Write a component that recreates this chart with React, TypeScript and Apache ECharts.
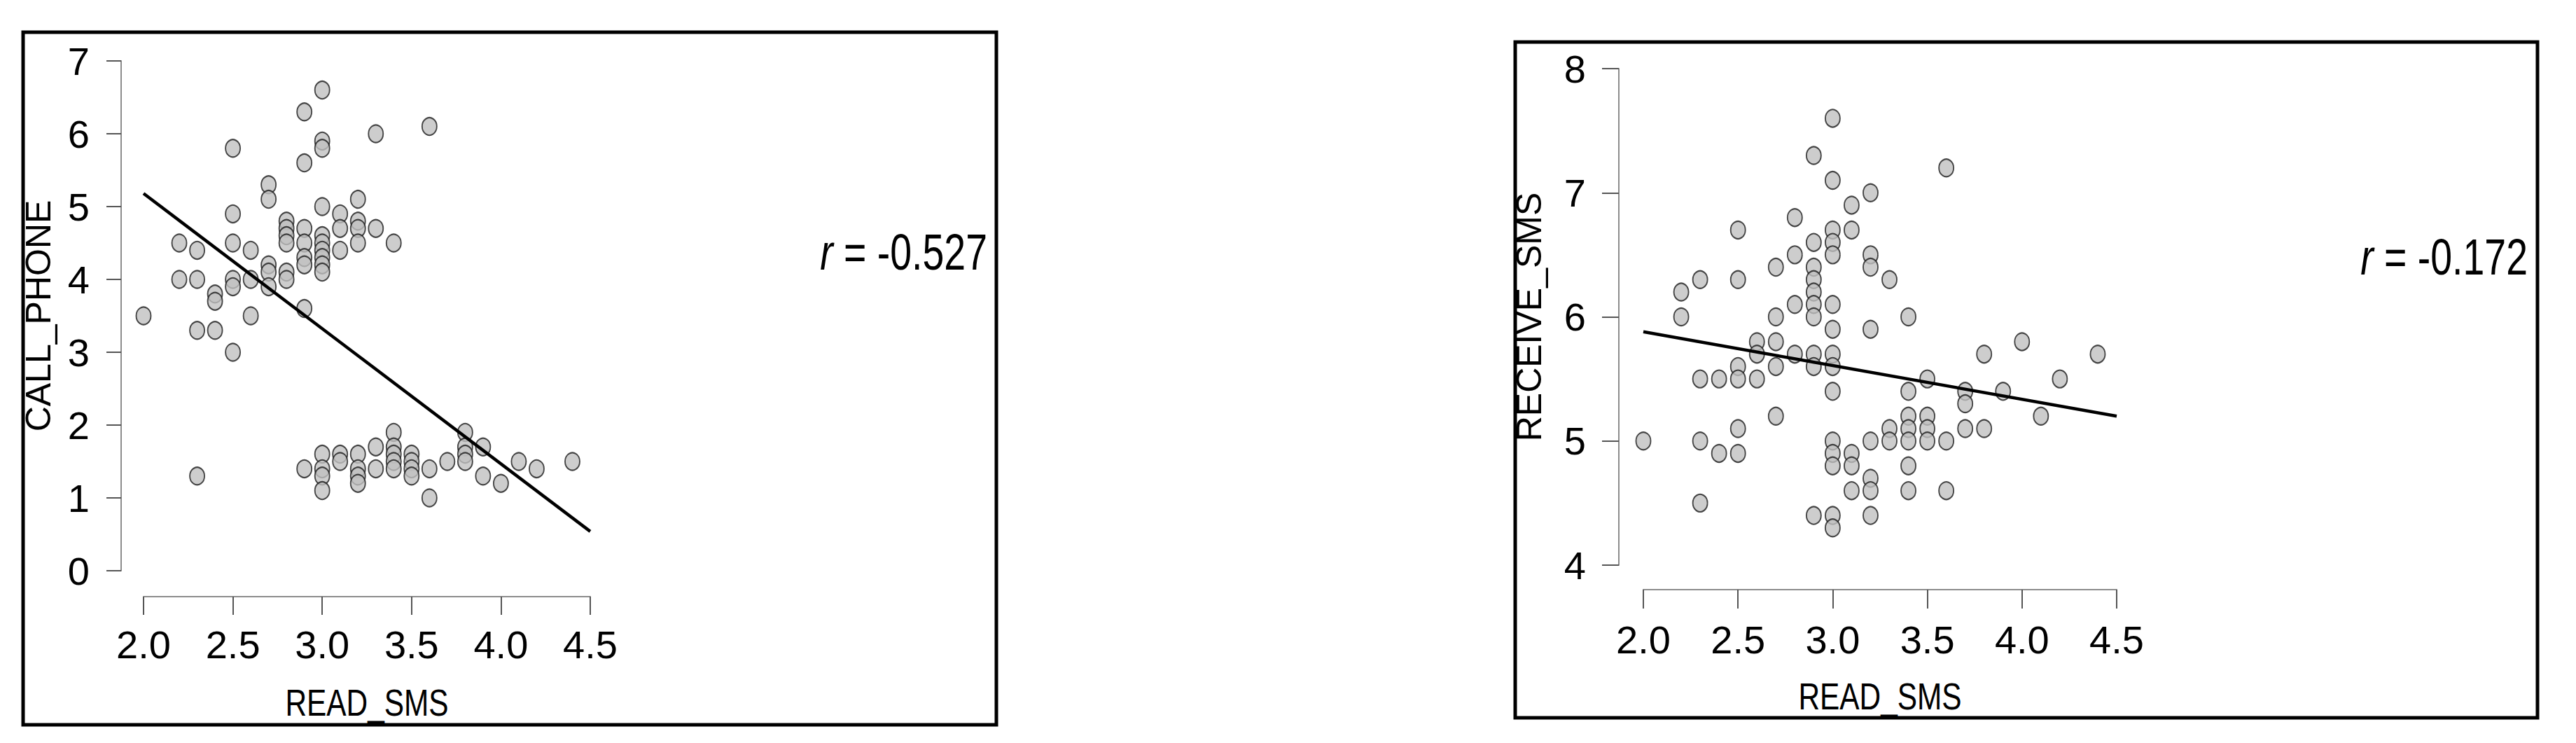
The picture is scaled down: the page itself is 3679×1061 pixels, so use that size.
import React, { useEffect, useRef } from "react";
import * as echarts from "echarts";

const W = 3679;
const H = 1061;

// READ_SMS vs CALL_PHONE
const callPhonePoints: [number, number][] = [
  [2.0, 3.5],
  [2.2, 4.5], [2.2, 4.0],
  [2.3, 4.4], [2.3, 4.0], [2.3, 3.3], [2.3, 1.3],
  [2.4, 3.8], [2.4, 3.7], [2.4, 3.3],
  [2.5, 5.8], [2.5, 4.9], [2.5, 4.5], [2.5, 4.0], [2.5, 3.9], [2.5, 3.0],
  [2.6, 4.4], [2.6, 4.0], [2.6, 3.5],
  [2.7, 5.3], [2.7, 5.1], [2.7, 4.2], [2.7, 4.1], [2.7, 3.9],
  [2.8, 4.8], [2.8, 4.7], [2.8, 4.6], [2.8, 4.5], [2.8, 4.1], [2.8, 4.0],
  [2.9, 6.3], [2.9, 5.6], [2.9, 4.7], [2.9, 4.5], [2.9, 4.3], [2.9, 4.2], [2.9, 3.6], [2.9, 1.4],
  [3.0, 6.6], [3.0, 5.9], [3.0, 5.8], [3.0, 5.0], [3.0, 4.6], [3.0, 4.5], [3.0, 4.4], [3.0, 4.3],
  [3.0, 4.2], [3.0, 4.1], [3.0, 1.6], [3.0, 1.4], [3.0, 1.3], [3.0, 1.1],
  [3.1, 4.9], [3.1, 4.7], [3.1, 4.4], [3.1, 1.6], [3.1, 1.5],
  [3.2, 5.1], [3.2, 4.8], [3.2, 4.7], [3.2, 4.5], [3.2, 1.6], [3.2, 1.4], [3.2, 1.3], [3.2, 1.2],
  [3.3, 6.0], [3.3, 4.7], [3.3, 1.7], [3.3, 1.4],
  [3.4, 4.5], [3.4, 1.9], [3.4, 1.7], [3.4, 1.6], [3.4, 1.5], [3.4, 1.4],
  [3.5, 1.6], [3.5, 1.5], [3.5, 1.4], [3.5, 1.3],
  [3.6, 6.1], [3.6, 1.4], [3.6, 1.0],
  [3.7, 1.5],
  [3.8, 1.9], [3.8, 1.7], [3.8, 1.6], [3.8, 1.5],
  [3.9, 1.7], [3.9, 1.3],
  [4.0, 1.2],
  [4.1, 1.5],
  [4.2, 1.4],
  [4.4, 1.5],
];

// READ_SMS vs RECEIVE_SMS
const receiveSmsPoints: [number, number][] = [
  [2.0, 5.0],
  [2.2, 6.2], [2.2, 6.0],
  [2.3, 6.3], [2.3, 5.5], [2.3, 5.0], [2.3, 4.5],
  [2.4, 5.5], [2.4, 4.9],
  [2.5, 6.7], [2.5, 6.3], [2.5, 5.6], [2.5, 5.5], [2.5, 5.1], [2.5, 4.9],
  [2.6, 5.8], [2.6, 5.7], [2.6, 5.5],
  [2.7, 6.4], [2.7, 6.0], [2.7, 5.8], [2.7, 5.6], [2.7, 5.2],
  [2.8, 6.8], [2.8, 6.5], [2.8, 6.1], [2.8, 5.7],
  [2.9, 7.3], [2.9, 6.6], [2.9, 6.4], [2.9, 6.3], [2.9, 6.2], [2.9, 6.1], [2.9, 6.0], [2.9, 5.7], [2.9, 5.6], [2.9, 4.4],
  [3.0, 7.6], [3.0, 7.1], [3.0, 6.7], [3.0, 6.6], [3.0, 6.5], [3.0, 6.1], [3.0, 5.9], [3.0, 5.7],
  [3.0, 5.6], [3.0, 5.4], [3.0, 5.0], [3.0, 4.9], [3.0, 4.8], [3.0, 4.4], [3.0, 4.3],
  [3.1, 6.9], [3.1, 6.7], [3.1, 4.9], [3.1, 4.8], [3.1, 4.6],
  [3.2, 7.0], [3.2, 6.5], [3.2, 6.4], [3.2, 5.9], [3.2, 5.0], [3.2, 4.7], [3.2, 4.6], [3.2, 4.4],
  [3.3, 6.3], [3.3, 5.1], [3.3, 5.0],
  [3.4, 6.0], [3.4, 5.4], [3.4, 5.2], [3.4, 5.1], [3.4, 5.0], [3.4, 4.8], [3.4, 4.6],
  [3.5, 5.5], [3.5, 5.2], [3.5, 5.1], [3.5, 5.0],
  [3.6, 7.2], [3.6, 5.0], [3.6, 4.6],
  [3.7, 5.4], [3.7, 5.3], [3.7, 5.1],
  [3.8, 5.7], [3.8, 5.1],
  [3.9, 5.4],
  [4.0, 5.8],
  [4.1, 5.2],
  [4.2, 5.5],
  [4.4, 5.7],
];

// Fitted regression lines (end points at x = 2.0 and x = 4.5)
const callPhoneFit: [number, number][] = [[2.0, 5.18], [4.5, 0.54]];
const receiveSmsFit: [number, number][] = [[2.0, 5.88], [4.5, 5.2]];

const xRange = [2.0, 4.5];
const callPhoneRange = [0, 7];
const receiveSmsRange = [4, 8];
const xTitle = "READ_SMS";
const yTitles = ["CALL_PHONE", "RECEIVE_SMS"];
const rValues = ["-0.527", "-0.172"];

const FONT = "'Liberation Sans', Arial, sans-serif";

const AXIS_LINE = "#8c8c8c";
const TICK = "#555555";

function makeX(gridIndex: number, offset: number, tickLen: number, margin: number) {
  return {
    type: "value",
    gridIndex,
    min: xRange[0],
    max: xRange[1],
    interval: 0.5,
    position: "bottom",
    offset,
    splitLine: { show: false },
    axisLine: { show: true, onZero: false, lineStyle: { color: AXIS_LINE, width: 2 } },
    axisTick: { show: true, length: tickLen, lineStyle: { color: TICK, width: 2 } },
    axisLabel: {
      show: true,
      margin,
      fontSize: 56,
      fontFamily: FONT,
      color: "#000",
      formatter: (v: number) => v.toFixed(1),
    },
  };
}

function makeY(gridIndex: number, range: number[], offset: number, tickLen: number, margin: number, name: string, nameGap: number) {
  return {
    type: "value",
    gridIndex,
    min: range[0],
    max: range[1],
    interval: 1,
    position: "left",
    offset,
    splitLine: { show: false },
    axisLine: { show: true, onZero: false, lineStyle: { color: AXIS_LINE, width: 2 } },
    axisTick: { show: true, length: tickLen, lineStyle: { color: TICK, width: 2 } },
    axisLabel: { show: true, margin, fontSize: 56, fontFamily: FONT, color: "#000" },
    name,
    nameLocation: "middle",
    nameGap,
    nameTextStyle: { fontSize: 50, fontFamily: FONT, color: "#000" },
  };
}

const pointStyle = { color: "#c0c0c0", borderColor: "#1a1a1a", borderWidth: 2 };

function rText(x: number, y: number, value: string) {
  return {
    type: "text",
    x,
    y,
    scaleX: 0.77,
    style: {
      text: "{i|r} = " + value,
      align: "right",
      verticalAlign: "middle",
      fontSize: 72,
      fontFamily: FONT,
      fill: "#000",
      rich: { i: { fontStyle: "italic", fontSize: 72, fontFamily: FONT } },
    },
    silent: true,
  };
}

function xTitleText(x: number, y: number) {
  return {
    type: "text",
    x,
    y,
    scaleX: 0.8,
    style: {
      text: xTitle,
      align: "center",
      verticalAlign: "middle",
      fontSize: 53,
      fontFamily: FONT,
      fill: "#000",
    },
    silent: true,
  };
}

export default function App() {
  const ref = useRef<HTMLDivElement>(null);
  useEffect(() => {
    document.body.style.margin = "0";
    const chart = echarts.init(ref.current!, null, { renderer: "svg", width: W, height: H });
    chart.setOption({
      animation: false,
      backgroundColor: "#ffffff",
      grid: [
        { left: 205, top: 87, width: 638, height: 728, containLabel: false },
        { left: 2347, top: 98, width: 676, height: 709, containLabel: false },
      ],
      xAxis: [makeX(0, 37, 26, 40), makeX(1, 35, 27, 43)],
      yAxis: [
        makeY(0, callPhoneRange, 32, 21, 45, yTitles[0], 93),
        makeY(1, receiveSmsRange, 35, 24, 47, yTitles[1], 103),
      ],
      series: [
        {
          type: "scatter",
          xAxisIndex: 0,
          yAxisIndex: 0,
          data: callPhonePoints,
          symbol: "circle",
          symbolSize: [21, 25],
          itemStyle: pointStyle,
          z: 2,
          silent: true,
        },
        {
          type: "line",
          xAxisIndex: 0,
          yAxisIndex: 0,
          data: callPhoneFit,
          showSymbol: false,
          symbol: "none",
          lineStyle: { color: "#000", width: 4.5 },
          z: 3,
          silent: true,
        },
        {
          type: "scatter",
          xAxisIndex: 1,
          yAxisIndex: 1,
          data: receiveSmsPoints,
          symbol: "circle",
          symbolSize: [21, 25],
          itemStyle: pointStyle,
          z: 2,
          silent: true,
        },
        {
          type: "line",
          xAxisIndex: 1,
          yAxisIndex: 1,
          data: receiveSmsFit,
          showSymbol: false,
          symbol: "none",
          lineStyle: { color: "#000", width: 4.5 },
          z: 3,
          silent: true,
        },
      ],
      graphic: [
        {
          type: "rect",
          shape: { x: 33, y: 46, width: 1390, height: 989 },
          style: { fill: "none", stroke: "#000", lineWidth: 5 },
          silent: true,
        },
        {
          type: "rect",
          shape: { x: 2164, y: 60, width: 1460, height: 965 },
          style: { fill: "none", stroke: "#000", lineWidth: 5 },
          silent: true,
        },
        rText(1410, 360, rValues[0]),
        rText(3610, 367, rValues[1]),
        xTitleText(524, 1004),
        xTitleText(2685, 995),
      ],
    });
    return () => chart.dispose();
  }, []);
  return (
    <div
      ref={ref}
      style={{ position: "absolute", left: 0, top: 0, width: W, height: H, background: "#fff" }}
    />
  );
}
